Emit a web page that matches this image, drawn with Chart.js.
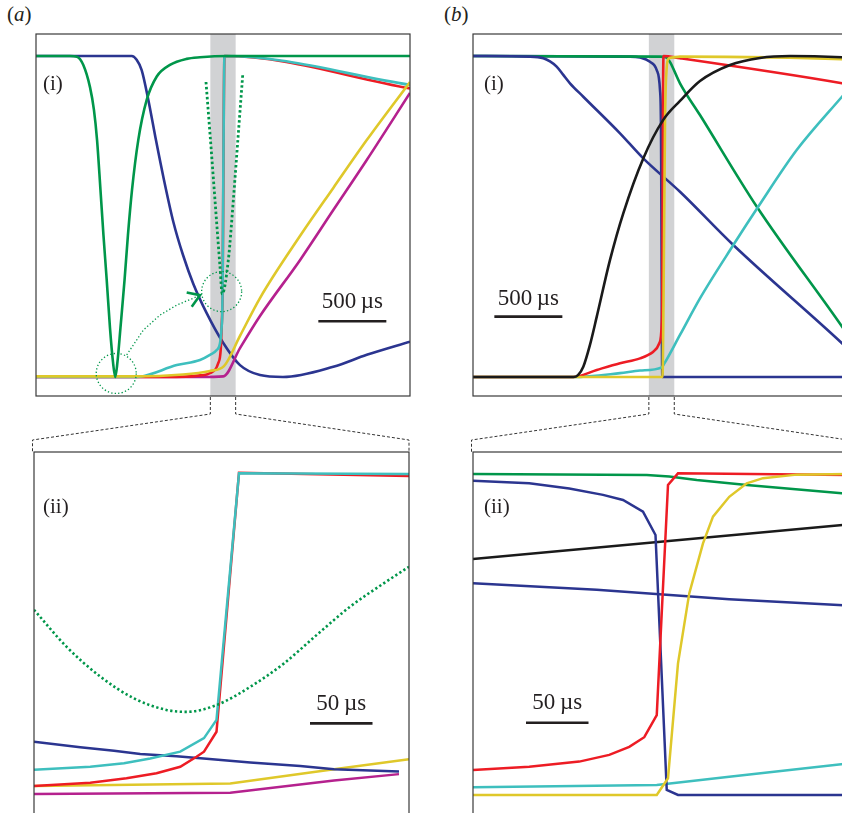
<!DOCTYPE html>
<html>
<head>
<meta charset="utf-8">
<script src="https://cdn.jsdelivr.net/npm/chart.js@4.4.0/dist/chart.umd.min.js"></script>
<style>
  html, body { margin: 0; padding: 0; background: #fff; overflow: hidden; }
  #page { position: relative; width: 842px; height: 813px; overflow: hidden; font-family: 'Liberation Serif', 'DejaVu Serif', serif; }
  #page canvas { position: absolute; }
  .lbl { position: absolute; font-size: 21px; line-height: 1; color: #231f20; }
</style>
</head>
<body>
<div id="page">
  <div class="lbl" style="left:7px;top:4px">(<i>a</i>)</div>
  <div class="lbl" style="left:444px;top:4px">(<i>b</i>)</div>
  <canvas id="chart-a1" width="386" height="374" style="left:30px;top:28px"></canvas>
  <canvas id="chart-b1" width="386" height="374" style="left:467px;top:28px"></canvas>
  <canvas id="chart-a2" width="387" height="400" style="left:28px;top:446px"></canvas>
  <canvas id="chart-b2" width="387" height="400" style="left:467px;top:446px"></canvas>
  <canvas id="links" width="842" height="813" style="left:0;top:0;pointer-events:none"></canvas>
</div>
<script>
// time in µs, level normalised 0..1
// (a)(i)
const aGreen = [[0,1],[250,1],[301,0.998],[348,0.972],[397,0.903],[426,0.832],[449,0.738],[474,0.583],[496,0.442],[520,0.302],[544,0.153],[566,0.047],[583,0],[599,0.047],[621,0.153],[651,0.302],[676,0.442],[706,0.583],[752,0.738],[814,0.863],[888,0.936],[985,0.972],[1108,0.991],[1206,0.996],[1404,1],[2750,1]]
const aBlue = [[0,1],[704,1],[740,0.988],[777,0.956],[826,0.863],[882,0.738],[941,0.614],[1010,0.483],[1081,0.38],[1157,0.29],[1255,0.199],[1377,0.106],[1500,0.037],[1647,0.006],[1816,0],[2186,0.032],[2432,0.069],[2750,0.11]]
const aCyan = [[0,0],[713,0],[765,0.001],[1035,0.037],[1206,0.053],[1279,0.069],[1329,0.084],[1353,0.105],[1365,0.157],[1370,0.209],[1386,1],[2750,0.91]]
const aRed = [[0,0],[961,0],[1206,0.005],[1279,0.012],[1340,0.043],[1358,0.084],[1365,0.157],[1371,0.24],[1386,1],[2750,0.899]]
const aYellow = [[0,0.002],[713,0.002],[1081,0.008],[1279,0.019],[1382,0.034],[1500,0.128],[1647,0.246],[1941,0.439],[2186,0.589],[2432,0.738],[2750,0.919]]
const aMagenta = [[0,0],[1206,0],[1377,0.002],[1500,0.09],[1647,0.19],[1941,0.364],[2186,0.52],[2432,0.676],[2750,0.885]]
const aGreenDot = [[1250,0.919],[1279,0.76],[1316,0.551],[1353,0.343],[1369,0.259],[1414,0.364],[1451,0.551],[1488,0.76],[1520,0.941]]

// (b)(i)
const bBlue1 = [[0,1],[419,0.998],[517,0.993],[566,0.983],[615,0.967],[664,0.941],[713,0.915],[811,0.873],[1081,0.759],[1252,0.681],[1522,0.577],[1914,0.411],[2713,0.105],[2750,0.09]]
const bBlue2 = [[0,1],[1154,0.998],[1228,0.995],[1301,0.982],[1351,0.956],[1375,0.894],[1382,0.79],[1392,0],[2750,0]]
const bGreen = [[0,1],[1375,0.998],[1424,0.995],[1449,0.981],[1522,0.915],[1669,0.816],[2086,0.531],[2713,0.157],[2750,0.134]]
const bRed = [[0,0],[738,0],[910,0.022],[1081,0.043],[1228,0.058],[1326,0.079],[1370,0.105],[1388,0.167],[1392,0.271],[1397,0.863],[1401,1],[1522,0.993],[2713,0.915],[2750,0.912]]
const bCyan = [[0,0],[738,0],[1081,0.012],[1228,0.02],[1388,0.03],[1404,0.04],[1522,0.131],[1669,0.245],[1914,0.411],[2098,0.531],[2380,0.707],[2713,0.873],[2750,0.891]]
const bYellow = [[0,0],[1393,0],[1401,0.24],[1412,0.801],[1423,0.956],[1437,0.991],[1463,0.995],[1522,0.998],[2713,0.99],[2750,0.989]]
const bBlack = [[0,0],[738,0],[772,0.006],[811,0.032],[860,0.1],[910,0.188],[1007,0.364],[1105,0.51],[1252,0.681],[1399,0.801],[1522,0.86],[1669,0.922],[1890,0.972],[2110,0.994],[2331,1],[2713,0.996],[2750,0.995]]

// (a)(ii)
const aiiCyan = [[0,0.079],[45,0.088],[72,0.099],[93,0.114],[117,0.135],[136,0.177],[146,0.234],[164,1.002],[300,1]]
const aiiRed = [[0,0.028],[45,0.038],[74,0.052],[98,0.068],[117,0.088],[130,0.119],[136,0.135],[146,0.197],[164,1.004],[300,0.994]]
const aiiBlue = [[0,0.166],[37,0.149],[64,0.138],[85,0.128],[114,0.121],[138,0.113],[173,0.101],[213,0.09],[240,0.08],[292,0.073]]
const aiiYellow = [[0,0.028],[157,0.036],[240,0.08],[300,0.111]]
const aiiMagenta = [[0,0.003],[157,0.007],[240,0.045],[292,0.065]]
const aiiGreenDot = [[0,0.577],[26,0.462],[53,0.369],[80,0.301],[106,0.265],[122,0.259],[146,0.28],[173,0.337],[200,0.41],[226,0.498],[253,0.587],[280,0.66],[300,0.711]]

// (b)(ii)
const biiGreen = [[0,1],[139,0.997],[157,0.992],[179,0.981],[219,0.966],[295,0.94],[300,0.938]]
const biiBlue1 = [[0,0.979],[45,0.971],[77,0.955],[104,0.935],[120,0.919],[136,0.883],[146,0.81],[155,0.016],[164,0],[300,0]]
const biiRed = [[0,0.078],[45,0.088],[85,0.104],[109,0.125],[125,0.15],[137,0.18],[147,0.249],[156,0.966],[164,1.002],[300,0.997]]
const biiBlack = [[0,0.735],[300,0.843]]
const biiBlue2 = [[0,0.66],[99,0.639],[205,0.61],[300,0.59]]
const biiYellow = [[0,0],[147,0],[156,0.052],[164,0.41],[173,0.628],[184,0.784],[192,0.867],[205,0.929],[219,0.971],[232,0.987],[259,0.998],[300,1]]
const biiCyan = [[0,0.024],[147,0.031],[205,0.057],[300,0.098]]

const GREEN = '#00964a'
const NAVY = '#2b3590'
const RED = '#ed1c24'
const CYAN = '#3ebfbe'
const YELLOW = '#dfc82a'
const MAGENTA = '#b5218e'
const BLACK = '#1a1a1a'
const INK = '#231f20'

function series(points, color, extra) {
  return Object.assign({
    data: points.map(([x, y]) => ({ x, y })),
    borderColor: color,
    borderWidth: 2.6,
    pointRadius: 0,
    fill: false,
    cubicInterpolationMode: 'monotone',
  }, extra || {})
}

const straight = { cubicInterpolationMode: 'default', tension: 0, borderWidth: 2.5 }

const decoPlugin = {
  id: 'deco',
  beforeDatasetsDraw(chart, args, opts) {
    const { ctx, chartArea: a, scales: { x } } = chart
    if (!opts.band) return
    const x0 = x.getPixelForValue(opts.band[0])
    const x1 = x.getPixelForValue(opts.band[1])
    ctx.save()
    ctx.fillStyle = '#d1d2d4'
    ctx.fillRect(x0, a.top, x1 - x0, a.bottom - a.top)
    ctx.restore()
  },
  afterDatasetsDraw(chart, args, opts) {
    const { ctx, chartArea: a, scales: { x, y } } = chart
    ctx.save()

    // dotted loops and arrow in (a)(i)
    if (opts.loops) {
      const L = opts.loops
      ctx.strokeStyle = GREEN
      ctx.lineWidth = 1.3
      ctx.setLineDash([1.3, 2.2])
      L.centers.forEach(([t, v]) => {
        ctx.beginPath()
        ctx.arc(x.getPixelForValue(t), y.getPixelForValue(v), L.r, 0, Math.PI * 2)
        ctx.stroke()
      })
      ctx.beginPath()
      L.path.forEach(([t, v], i) => {
        const px = x.getPixelForValue(t)
        const py = y.getPixelForValue(v)
        if (i === 0) ctx.moveTo(px, py)
        else ctx.lineTo(px, py)
      })
      ctx.stroke()
      ctx.setLineDash([])
      ctx.lineWidth = 2.6
      ctx.beginPath()
      L.head.forEach(([t, v], i) => {
        const px = x.getPixelForValue(t)
        const py = y.getPixelForValue(v)
        if (i === 0) ctx.moveTo(px, py)
        else ctx.lineTo(px, py)
      })
      ctx.stroke()
    }

    // frame
    ctx.strokeStyle = '#3a3a3a'
    ctx.lineWidth = 1.2
    ctx.strokeRect(a.left, a.top, a.right - a.left, a.bottom - a.top)

    // panel tag
    ctx.fillStyle = INK
    ctx.font = '21px "Liberation Serif"'
    ctx.textBaseline = 'alphabetic'
    ctx.textAlign = 'left'
    ctx.fillText(opts.tag, a.left + opts.tagDx, a.top + opts.tagDy)

    // scale bar
    const b = opts.bar
    const bx0 = x.getPixelForValue(b.t)
    const bx1 = x.getPixelForValue(b.t + b.len)
    const by = y.getPixelForValue(b.v)
    ctx.strokeStyle = INK
    ctx.lineWidth = 2.6
    ctx.beginPath()
    ctx.moveTo(bx0, by)
    ctx.lineTo(bx1, by)
    ctx.stroke()
    ctx.font = '23px "Liberation Serif"'
    ctx.textAlign = 'center'
    ctx.fillText(b.label, (bx0 + bx1) / 2, by - b.gap)
    ctx.restore()
  },
}

function panel(id, datasets, xMax, yMin, yMax, deco) {
  const canvas = document.getElementById(id)
  const ctx = canvas.getContext('2d')
  return new Chart(ctx, {
    type: 'line',
    data: { datasets },
    options: {
      responsive: false,
      animation: false,
      events: [],
      layout: { padding: 6 },
      plugins: { legend: { display: false }, tooltip: { enabled: false }, deco },
      scales: {
        x: { type: 'linear', min: 0, max: xMax, display: false },
        y: { type: 'linear', min: yMin, max: yMax, display: false },
      },
    },
    plugins: [decoPlugin],
  })
}

// datasets listed top-most first (Chart.js draws index 0 last)
const chartA1 = panel('chart-a1', [
  series(aGreenDot, GREEN, { borderWidth: 2.8, borderDash: [2.5, 2.5] }),
  series(aGreen, GREEN),
  series(aYellow, YELLOW),
  series(aCyan, CYAN),
  series(aRed, RED),
  series(aMagenta, MAGENTA),
  series(aBlue, NAVY),
], 2750, -0.0592, 1.0685, {
  band: [1282, 1468],
  tag: '(i)', tagDx: 7, tagDy: 56,
  bar: { t: 2076, v: 0.1735, len: 500, label: '500\u2009\u00b5s', gap: 13.3 },
  loops: {
    centers: [[590, 0.011], [1365, 0.266]],
    r: 20,
    path: [[667, 0.069], [789, 0.146], [912, 0.193], [1035, 0.224], [1182, 0.25], [1206, 0.255]],
    head: [[1108, 0.263], [1206, 0.255], [1145, 0.219]],
  },
})

const chartB1 = panel('chart-b1', [
  series(bBlack, BLACK),
  series(bYellow, YELLOW),
  series(bRed, RED),
  series(bCyan, CYAN),
  series(bBlue1, NAVY),
  series(bGreen, GREEN),
  series(bBlue2, NAVY),
], 2750, -0.0592, 1.0685, {
  band: [1293, 1480],
  tag: '(i)', tagDx: 11, tagDy: 56,
  bar: { t: 157, v: 0.188, len: 500, label: '500\u2009\u00b5s', gap: 11.7 },
})

const chartA2 = panel('chart-a2', [
  series(aiiGreenDot, GREEN, { borderWidth: 2.6, borderDash: [2.3, 2.5] }),
  series(aiiCyan, CYAN, straight),
  series(aiiRed, RED, straight),
  series(aiiBlue, NAVY, straight),
  series(aiiYellow, YELLOW, straight),
  series(aiiMagenta, MAGENTA, straight),
], 300, -0.1402, 1.0685, {
  tag: '(ii)', tagDx: 9, tagDy: 60.5,
  bar: { t: 220.8, v: 0.223, len: 50, label: '50\u2009\u00b5s', gap: 13.3 },
})

const chartB2 = panel('chart-b2', [
  series(biiYellow, YELLOW, straight),
  series(biiRed, RED, straight),
  series(biiBlue1, NAVY, straight),
  series(biiBlack, BLACK, straight),
  series(biiBlue2, NAVY, straight),
  series(biiGreen, GREEN, straight),
  series(biiCyan, CYAN, straight),
], 300, -0.1402, 1.0685, {
  tag: '(ii)', tagDx: 11, tagDy: 60.5,
  bar: { t: 42.4, v: 0.225, len: 50, label: '50\u2009\u00b5s', gap: 13.4 },
})

// dashed connectors from each grey band to the enlarged panel below it
function drawLinks(top, bottom) {
  const links = document.getElementById('links')
  const ctx = links.getContext('2d')
  const tEl = top.canvas
  const bEl = bottom.canvas
  const band = top.options.plugins.deco.band
  const xs = band.map((t) => tEl.offsetLeft + top.scales.x.getPixelForValue(t))
  const yTop = tEl.offsetTop + top.chartArea.bottom
  const yBot = bEl.offsetTop + bottom.chartArea.top
  const corners = [bEl.offsetLeft + bottom.chartArea.left - 1.5, bEl.offsetLeft + bottom.chartArea.right]
  const knee1 = yTop + 18
  const knee2 = yBot - 12
  ctx.save()
  ctx.strokeStyle = '#333'
  ctx.lineWidth = 1
  ctx.setLineDash([3, 2])
  xs.forEach((bx, i) => {
    ctx.beginPath()
    ctx.moveTo(bx, yTop + 1)
    ctx.lineTo(bx, knee1)
    ctx.lineTo(corners[i], knee2)
    ctx.lineTo(corners[i], yBot)
    ctx.stroke()
  })
  ctx.restore()
}

drawLinks(chartA1, chartA2)
drawLinks(chartB1, chartB2)
</script>
</body>
</html>
